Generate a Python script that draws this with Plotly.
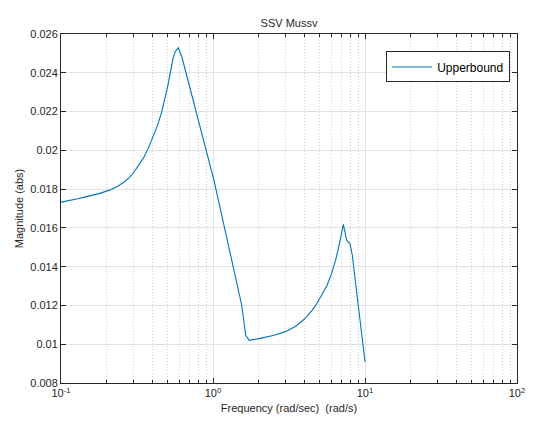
import plotly.graph_objects as go

freq = [0.100, 0.115, 0.129, 0.145, 0.160, 0.180, 0.210, 0.235, 0.260, 0.280, 0.299, 0.320,
        0.347, 0.375, 0.404, 0.432, 0.460, 0.485, 0.508, 0.528, 0.548, 0.566, 0.591,
        0.625, 0.706, 0.863, 1.015, 1.255, 1.545, 1.641, 1.733,
        2.04, 2.49, 3.0, 3.5, 4.0, 4.5, 4.81, 5.2, 5.6, 6.0, 6.4, 6.8, 7.0, 7.2,
        7.58, 7.96, 8.25, 10.0]
mag = [0.01733, 0.01741, 0.01750, 0.01760, 0.01768, 0.01778, 0.01796, 0.01814, 0.01837,
       0.01858, 0.01883, 0.01914, 0.01957, 0.02010, 0.02069, 0.02130, 0.02198, 0.02268,
       0.02344, 0.02415, 0.02481, 0.02510, 0.02530,
       0.02480, 0.02320, 0.02062, 0.01845, 0.01520, 0.01201, 0.01046, 0.01020,
       0.01030, 0.01045, 0.01065, 0.01093, 0.01130, 0.01176, 0.01209, 0.01252, 0.01300,
       0.01360, 0.01432, 0.01520, 0.01565, 0.01618,
       0.01536, 0.01519, 0.01459, 0.00908]

ytick_vals = [0.008, 0.010, 0.012, 0.014, 0.016, 0.018, 0.020, 0.022, 0.024, 0.026]
ytick_text = ["0.008", "0.01", "0.012", "0.014", "0.016", "0.018", "0.02", "0.022", "0.024", "0.026"]
xtick_vals = [0.1, 1, 10, 100]
xtick_text = ["10<sup>-1</sup>", "10<sup>0</sup>", "10<sup>1</sup>", "10<sup>2</sup>"]
xminor_vals = [m * d for d in (0.1, 1, 10) for m in range(2, 10)]

axis_col = "#262626"
grid_col = "#e3e3e3"
font_fam = "Liberation Sans, Arial, Helvetica, sans-serif"

fig = go.Figure()
fig.add_trace(go.Scatter(x=freq, y=mag, mode="lines", name="Upperbound",
                         line=dict(color="#0072BD", width=1.1)))

fig.update_layout(
    width=533, height=421,
    margin=dict(l=61, r=16, t=34, b=38),
    paper_bgcolor="white", plot_bgcolor="white",
    font=dict(family=font_fam, size=11, color=axis_col),
    title=dict(text="SSV Mussv", x=0.5, xanchor="center", xref="paper",
               y=1, yref="paper", yanchor="bottom", pad=dict(b=7),
               font=dict(size=11, color=axis_col)),
    showlegend=True,
    legend=dict(x=0.985, xanchor="right", y=0.95, yanchor="top",
                bordercolor=axis_col, borderwidth=1, bgcolor="white",
                font=dict(size=12, color="black"), tracegroupgap=0,
                itemwidth=40),
)

fig.update_xaxes(
    type="log", range=[-1, 2], automargin=False,
    tickvals=xtick_vals, ticktext=xtick_text,
    ticks="inside", ticklen=5, tickcolor=axis_col,
    showline=True, linecolor=axis_col, linewidth=1, mirror="ticks",
    showgrid=True, gridcolor=grid_col, gridwidth=1,
    zeroline=False,
    minor=dict(tickvals=xminor_vals, ticks="inside", ticklen=3, tickcolor=axis_col,
               showgrid=True, gridcolor="#cfcfcf", griddash="1px,2px", gridwidth=1),
    title=dict(text="Frequency (rad/sec)  (rad/s)", standoff=6, font=dict(size=11)),
    tickfont=dict(size=11),
)
fig.update_yaxes(
    range=[0.008, 0.026], automargin=False,
    tickvals=ytick_vals, ticktext=ytick_text,
    ticks="inside", ticklen=5, tickcolor=axis_col,
    showline=True, linecolor=axis_col, linewidth=1, mirror="ticks",
    showgrid=True, gridcolor=grid_col, gridwidth=1,
    zeroline=False,
    title=dict(text="Magnitude (abs)", standoff=4, font=dict(size=11)),
    tickfont=dict(size=11),
)

fig.write_html("out.html")
